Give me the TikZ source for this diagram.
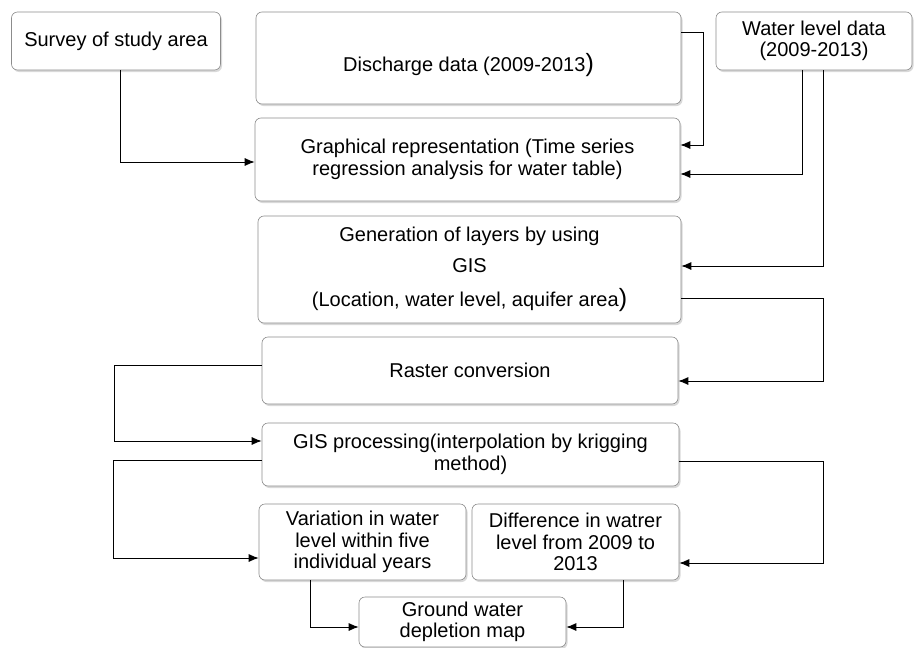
\documentclass[tikz,border=0pt]{standalone}
\usepackage{fontspec}
\setmainfont{Liberation Sans}
\usetikzlibrary{arrows.meta,shadows}

\begin{document}
\begin{tikzpicture}[x=1pt,y=-1pt]
    \tikzstyle{line} = [-{Latex[length=10pt,width=8pt]}, line width=0.9pt]
    \tikzstyle{rec} = [rectangle, rounded corners=6pt, draw=black!45, fill=white,
      line width=0.6pt, align=center, inner sep=0pt,
      font=\fontsize{20}{21.5}\selectfont,
      drop shadow={opacity=0.3, shadow xshift=1.5pt, shadow yshift=-2pt}]
    \newcommand{\bigparen}{{\fontsize{25}{25}\selectfont )}}

    \useasboundingbox (0,0) rectangle (914,648);

    \node(survey) [rec, minimum width=209pt, minimum height=58pt] at (116,41)
    {Survey of study area};
    \node(discharge) [rec, minimum width=425pt, minimum height=92pt] at (468.5,58)
    {\raisebox{-13pt}[0pt][0pt]{Discharge data (2009-2013\bigparen}};
    \node(wldata) [rec, minimum width=196pt, minimum height=58pt] at (814,41)
    {Water level data\\(2009-2013)};
    \node(graph) [rec, minimum width=425pt, minimum height=83pt] at (467.5,159.5)
    {Graphical representation (Time series\\regression analysis for water table)};
    \node(layers) [rec, minimum width=423pt, minimum height=107pt] at (469.5,269.5)
    {Generation of layers by using\\[9pt]GIS\\[13pt](Location, water level, aquifer area\bigparen};
    \node(raster) [rec, minimum width=416pt, minimum height=67pt] at (470,370.5)
    {Raster conversion};
    \node(gisproc) [rec, minimum width=417pt, minimum height=63pt] at (470.5,454.5)
    {GIS processing(interpolation by krigging\\method)};
    \node(variation) [rec, minimum width=207pt, minimum height=76pt] at (362.5,542)
    {Variation in water\\level within five\\individual years};
    \node(difference) [rec, minimum width=207pt, minimum height=76pt] at (575.5,542)
    {Difference in watrer\\level from 2009 to\\2013};
    \node(depletion) [rec, minimum width=207pt, minimum height=50pt] at (462.5,622)
    {Ground water\\depletion map};

    \draw[line] ([xshift=4pt]survey.south) |- ([yshift=-2.5pt]graph.west);
    \draw[line] ([yshift=26pt]discharge.east) -- ++(22,0) |- ([yshift=14.5pt]graph.east);
    \draw[line] ([xshift=-12pt]wldata.south) |- ([yshift=-14.5pt]graph.east);
    \draw[line] ([xshift=9pt]wldata.south) |- ([yshift=3.5pt]layers.east);
    \draw[line] ([yshift=-28.5pt]layers.east) -- ++(142,0) |- ([yshift=-10.5pt]raster.east);
    \draw[line] ([yshift=5.5pt]raster.west) -- ++(-147,0) |- ([yshift=13.5pt]gisproc.west);
    \draw[line] ([yshift=-5.5pt]gisproc.west) -- ++(-148,0) |- ([yshift=-16pt]variation.west);
    \draw[line] ([yshift=-6.5pt]gisproc.east) -- ++(144,0) |- ([yshift=-21pt]difference.east);
    \draw[line] ([xshift=-52.5pt]variation.south) |- ([yshift=-5pt]depletion.west);
    \draw[line] ([xshift=47.5pt]difference.south) |- ([yshift=-5pt]depletion.east);
\end{tikzpicture}
\end{document}
